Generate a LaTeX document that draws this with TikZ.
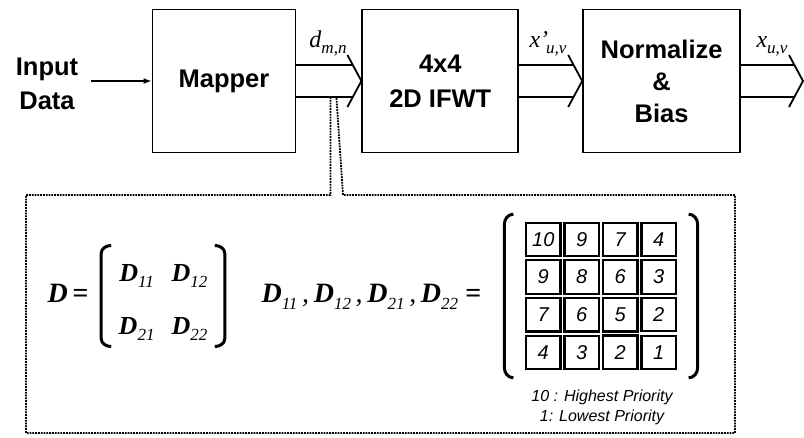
\documentclass[tikz,border=0pt]{standalone}
\usepackage{fontspec}
\newfontfamily\helv{Liberation Sans}[ItalicFont={Liberation Sans Italic},BoldFont={Liberation Sans Bold},
    BoldItalicFont={Liberation Sans Bold Italic}]
\newfontfamily\tnr{Liberation Serif}
\usetikzlibrary{arrows.meta,positioning,matrix}
\newcommand{\lowsub}[1]{\raisebox{-0.25em}{\fontsize{17}{17}\selectfont #1}}
\newcommand{\Dsub}[1]{{\bfseries D}\lowsub{#1}}
\tikzset{
    block/.style={draw,line width=1.8pt,minimum height=143pt,align=center,
        font=\helv\bfseries\fontsize{25.5}{32}\selectfont},
    bigtext/.style={font=\helv\bfseries\fontsize{25.5}{34}\selectfont},
    bus/.style={line width=1.8pt},
    feed/.style={-{Latex[length=8pt,width=6pt]},line width=1.8pt},
    siglabel/.style={anchor=base,font=\tnr\itshape\fontsize{24}{24}\selectfont},
    eqtext/.style={font=\tnr\itshape\fontsize{28}{28}\selectfont},
    zoomline/.style={densely dotted,line width=1.8pt},
    cell/.style={draw,line width=2.2pt,minimum width=34.5pt,minimum height=33.5pt,inner sep=0pt,
        font=\helv\itshape\fontsize{20}{20}\selectfont},
    brack/.style={line width=3pt},
    note/.style={align=center,font=\helv\itshape\fontsize{16}{20}\selectfont}
}

\begin{document}
\begin{tikzpicture}[x=1pt,y=-1pt]
\useasboundingbox (0,0) rectangle (804,437);

% blocks
\node[block,minimum width=143pt] (mapper) at (224,81) {Mapper};
\node[block,minimum width=156pt,right=65pt of mapper] (ifwt) {4x4\\[3pt]2D IFWT};
\node[block,minimum width=157pt,right=63pt of ifwt] (norm) {Normalize\\\&\\Bias};

\node[bigtext,align=center] (input) at (47,84) {Input\\Data};
\coordinate (feedin) at (91,81);
\coordinate (outtip) at (803,81);
\draw[feed] (feedin) -- (mapper.west);

% buses
\draw[bus] ([yshift=16pt]mapper.east) -- ([xshift=-8.6pt,yshift=16pt]ifwt.west);
\draw[bus] ([yshift=-16pt]mapper.east) -- ([xshift=-8.6pt,yshift=-16pt]ifwt.west);
\draw[bus] ([xshift=-14pt,yshift=26pt]ifwt.west) -- (ifwt.west) -- ([xshift=-14pt,yshift=-26pt]ifwt.west);

\draw[bus] ([yshift=16pt]ifwt.east) -- ([xshift=-8.6pt,yshift=16pt]norm.west);
\draw[bus] ([yshift=-16pt]ifwt.east) -- ([xshift=-8.6pt,yshift=-16pt]norm.west);
\draw[bus] ([xshift=-14pt,yshift=26pt]norm.west) -- (norm.west) -- ([xshift=-14pt,yshift=-26pt]norm.west);

\draw[bus] ([yshift=16pt]norm.east) -- ([xshift=-8.6pt,yshift=16pt]outtip);
\draw[bus] ([yshift=-16pt]norm.east) -- ([xshift=-8.6pt,yshift=-16pt]outtip);
\draw[bus] ([xshift=-14pt,yshift=26pt]outtip) -- (outtip) -- ([xshift=-14pt,yshift=-26pt]outtip);

\node[siglabel] (dlab) at (328,47) {d\lowsub{m,n}};
\node[siglabel] (xplab) at (548,47) {x’\kern-2pt\lowsub{u,v}};
\node[siglabel] (xlab) at (772,47) {x\lowsub{u,v}};

% zoom into the bus
\coordinate (tapa) at ([xshift=34pt,yshift=-16pt]mapper.east);
\coordinate (tapb) at ([xshift=40pt,yshift=-16pt]mapper.east);
\draw[zoomline] (tapa) -- (tapa |- 0,195) -- (26,195) -- (26,433) -- (735,433) -- (735,195)
    -- (343,195) -- (tapb);

% D matrix
\node[eqtext,anchor=base east] (dname) at (92,302) {{\bfseries D}\,{\bfseries =}};
\matrix (dmat) [matrix of nodes,column sep=17pt,row sep=30pt,
    nodes={eqtext,font=\tnr\itshape\fontsize{26}{26}\selectfont,inner sep=0pt,text height=18pt,text depth=5pt}]
    at (163,301) {
    \Dsub{11} & \Dsub{12} \\
    \Dsub{21} & \Dsub{22} \\
};
\draw[brack] ([xshift=-4pt,yshift=14pt]dmat.north west) to[out=180,in=90] ([xshift=-14pt,yshift=6pt]dmat.north west)
    -- ([xshift=-14pt,yshift=4pt]dmat.south west) to[out=-90,in=180] ([xshift=-4pt,yshift=-4pt]dmat.south west);
\draw[brack] ([xshift=4pt,yshift=14pt]dmat.north east) to[out=0,in=90] ([xshift=14pt,yshift=6pt]dmat.north east)
    -- ([xshift=14pt,yshift=4pt]dmat.south east) to[out=-90,in=0] ([xshift=4pt,yshift=-4pt]dmat.south east);

\node[eqtext,anchor=base west] (dlist) at (258,302)
    {\Dsub{11}\,,\,\Dsub{12}\,,\,\Dsub{21}\,,\,\Dsub{22} {\bfseries =}};

% priority grid
\matrix (prio) [matrix of nodes,nodes={cell},column sep=1.8pt,row sep=1.8pt] at (601,296) {
    10 & 9 & 7 & 4 \\
    9  & 8 & 6 & 3 \\
    7  & 6 & 5 & 2 \\
    4  & 3 & 2 & 1 \\
};
\draw[brack] ([xshift=-8pt,yshift=4pt]prio.north west) to[out=180,in=90] ([xshift=-17pt,yshift=-6pt]prio.north west)
    -- ([xshift=-17pt,yshift=6pt]prio.south west) to[out=-90,in=180] ([xshift=-8pt,yshift=-4pt]prio.south west);
\draw[brack] ([xshift=8pt,yshift=4pt]prio.north east) to[out=0,in=90] ([xshift=17pt,yshift=-6pt]prio.north east)
    -- ([xshift=17pt,yshift=6pt]prio.south east) to[out=-90,in=0] ([xshift=8pt,yshift=-4pt]prio.south east);

\node[note] (legend) at (602,407) {10 : Highest Priority\\1: Lowest Priority};

\end{tikzpicture}
\end{document}
